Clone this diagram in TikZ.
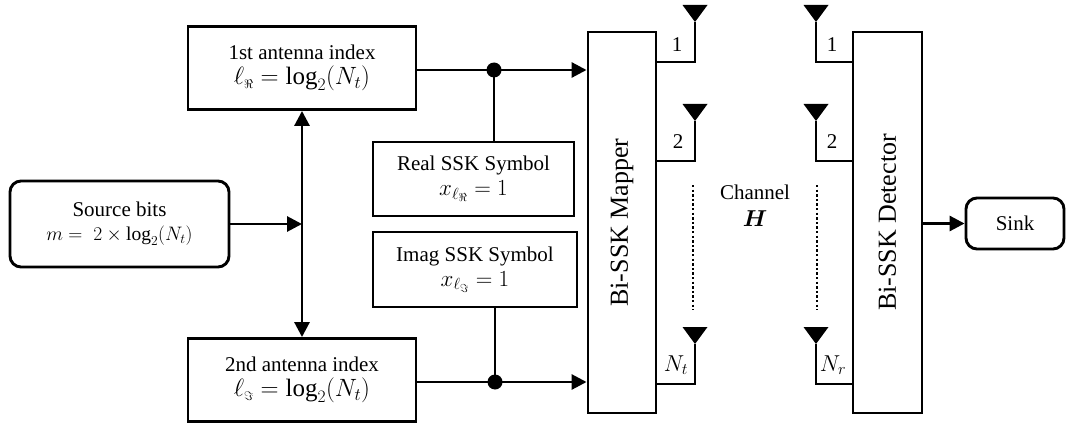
\RequirePackage{fix-cm}
\documentclass[tikz,border=0pt]{standalone}
\usepackage{amsmath}
\usepackage{fontspec}
\setmainfont{Liberation Serif}
\usetikzlibrary{arrows.meta,calc}
\newcommand{\mbig}[1]{{\fontsize{25}{27}\selectfont #1}}
\newcommand{\mmid}[1]{{\fontsize{23}{25}\selectfont #1}}
\newcommand{\msmall}[1]{{\fontsize{19.5}{22}\selectfont #1}}
\tikzset{
  blk/.style={draw,line width=2.9pt,inner sep=0pt,align=center,font=\fontsize{21}{26}\selectfont},
  rblk/.style={blk,rounded corners=11pt},
  vblk/.style={blk,font=\fontsize{26}{30}\selectfont},
  conn/.style={line width=2.9pt},
  arr/.style={conn,-{Triangle[length=15pt,width=15pt]}},
  darr/.style={conn,{Triangle[length=15pt,width=15pt]}-{Triangle[length=15pt,width=15pt]}},
  lbl/.style={font=\fontsize{21}{25}\selectfont,inner sep=0pt},
  dotline/.style={line width=2.9pt,dash pattern=on 2.4pt off 2.2pt},
  jdot/.style={circle,fill,inner sep=0pt,minimum size=15pt},
  antenna/.pic={\fill (-12.5,-17) -- (12.5,-17) -- (0,0) -- cycle;}
}
\begin{document}
\begin{tikzpicture}[x=1pt,y=-1pt]
\useasboundingbox (0,0) rectangle (1073,425);
% blocks
\node[blk,minimum width=228pt,minimum height=83pt] (ant1) at (302,68)
  {1st antenna index\\[-1pt] \mbig{$\ell_{\scriptscriptstyle\Re}=\log_2(N_t)$}};
\node[blk,minimum width=228pt,minimum height=83pt] (ant2) at (302,380)
  {2nd antenna index\\[-1pt] \mbig{$\ell_{\scriptscriptstyle\Im}=\log_2(N_t)$}};
\node[rblk,minimum width=219pt,minimum height=86pt] (src) at (119.5,224)
  {Source bits\\[-2pt] \msmall{$m=\;2\times\log_2(N_t)$}};
\node[blk,minimum width=201pt,minimum height=74pt] (real) at (473.5,179)
  {Real SSK Symbol\\[-1pt] \mmid{$x_{\ell_{\Re}}=1$}};
\node[blk,minimum width=204pt,minimum height=75pt] (imag) at (475,269.5)
  {Imag SSK Symbol\\[-1pt] \mmid{$x_{\ell_{\Im}}=1$}};
\node[vblk,minimum width=68pt,minimum height=381pt] (map) at (622,222.5)
  {\rotatebox{90}{Bi-SSK Mapper}};
\node[vblk,minimum width=69pt,minimum height=381pt] (det) at (887.5,222.5)
  {\rotatebox{90}{Bi-SSK Detector}};
\node[rblk,minimum width=98pt,minimum height=51pt] (sink) at (1015,223.5) {Sink};

% junctions
\node[jdot] (d1) at (494,70) {};
\node[jdot] (d2) at (495,382) {};
\coordinate (j) at (302,224);

% connections
\draw[arr] (src.east |- j) -- (j);
\draw[darr] (ant1.south) -- (ant2.north);
\draw[arr] (ant1.east |- d1) -- (d1.center) -- (map.west |- d1);
\draw[arr] (ant2.east |- d2) -- (d2.center) -- (map.west |- d2);
\draw[conn] (real.north -| d1) -- (d1.center);
\draw[conn] (imag.south -| d2) -- (d2.center);
\draw[arr] (det.east |- sink.west) -- (sink.west);

% transmit antennas
\foreach \n/\y in {t1/62, t2/161, tn/384}{
  \coordinate (\n) at (695,\y);
  \coordinate (\n a) at (695,\y-40);
  \draw[conn] (map.east |- \n) -- (\n) -- (\n a);
  \pic at (\n a) {antenna};
}
\node[lbl] (lt1) at (677,45) {1};
\node[lbl] (lt2) at (678,142) {2};
\node[lbl] (ltn) at (676,365) {\mmid{$N_t$}};
% receive antennas
\foreach \n/\y in {r1/62, r2/161, rn/384}{
  \coordinate (\n) at (816,\y);
  \coordinate (\n a) at (816,\y-40);
  \draw[conn] (det.west |- \n) -- (\n) -- (\n a);
  \pic at (\n a) {antenna};
}
\node[lbl] (lr1) at (832,45) {1};
\node[lbl] (lr2) at (832,142) {2};
\node[lbl] (lrn) at (833,365) {\mmid{$N_r$}};

% dotted
\coordinate (dt1) at (693,185); \coordinate (dt2) at (693,310);
\coordinate (dr1) at (817,185); \coordinate (dr2) at (817,310);
\draw[dotline] (dt1) -- (dt2);
\draw[dotline] (dr1) -- (dr2);

% channel
\node[lbl] (ch) at (755,192) {Channel};
\node[lbl] (chH) at (755,219) {\mmid{$\boldsymbol{H}$}};
\end{tikzpicture}
\end{document}
